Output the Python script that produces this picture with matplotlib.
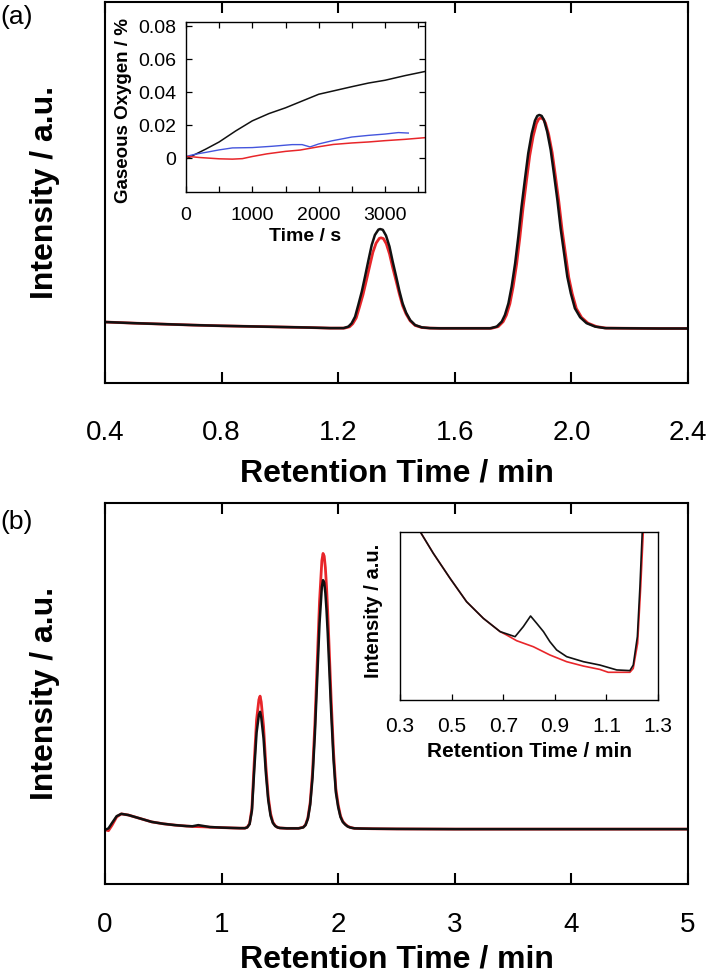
import matplotlib
matplotlib.use('Agg')
import matplotlib.pyplot as plt
from matplotlib.ticker import MultipleLocator

plt.rcParams['font.family'] = ['Liberation Sans', 'DejaVu Sans']

# ---- panel (a): chromatogram, 0.4 - 2.4 min ----
rt_a_blk = [0.40, 0.50, 0.60, 0.70, 0.80, 0.90, 1.00, 1.10, 1.172, 1.218,
            1.235, 1.246, 1.258, 1.269, 1.281, 1.292, 1.304, 1.315, 1.326, 1.338,
            1.344, 1.353, 1.364, 1.376, 1.387, 1.399, 1.410, 1.421, 1.433, 1.447,
            1.464, 1.487, 1.515, 1.55, 1.60, 1.66, 1.721, 1.744, 1.761, 1.772,
            1.784, 1.795, 1.807, 1.818, 1.829, 1.841, 1.852, 1.864, 1.875, 1.883,
            1.890, 1.898, 1.906, 1.917, 1.929, 1.940, 1.952, 1.963, 1.975, 1.986,
            1.998, 2.012, 2.030, 2.052, 2.081, 2.115, 2.20, 2.30, 2.40]
int_a_blk = [16.0, 15.7, 15.45, 15.2, 15.0, 14.85, 14.7, 14.55, 14.4, 14.4,
             14.8, 15.65, 17.4, 20.5, 24.0, 27.9, 32.3, 36.2, 38.85, 40.25,
             40.4, 40.2, 38.7, 35.8, 31.85, 27.9, 24.15, 20.9, 18.45, 16.5,
             15.2, 14.6, 14.4, 14.35, 14.35, 14.35, 14.35, 14.8, 16.1, 17.85,
             20.9, 25.3, 31.4, 38.4, 46.3, 53.7, 60.3, 65.5, 68.85, 70.1,
             70.35, 70.1, 69.0, 65.95, 61.15, 55.0, 48.0, 40.6, 34.0, 27.9,
             23.55, 19.6, 17.25, 15.7, 14.8, 14.4, 14.35, 14.3, 14.3]

rt_a_red = [0.40, 0.50, 0.60, 0.70, 0.80, 0.90, 1.00, 1.10, 1.172, 1.222,
            1.239, 1.250, 1.262, 1.273, 1.285, 1.296, 1.308, 1.319, 1.330, 1.341,
            1.347, 1.355, 1.365, 1.376, 1.387, 1.399, 1.410, 1.421, 1.433, 1.447,
            1.464, 1.487, 1.515, 1.55, 1.60, 1.66, 1.726, 1.749, 1.766, 1.777,
            1.789, 1.800, 1.812, 1.823, 1.834, 1.846, 1.857, 1.869, 1.880, 1.888,
            1.895, 1.903, 1.911, 1.922, 1.934, 1.945, 1.957, 1.968, 1.980, 1.991,
            2.003, 2.017, 2.035, 2.057, 2.086, 2.120, 2.20, 2.30, 2.40]
int_a_red = [16.0, 15.7, 15.45, 15.2, 15.0, 14.85, 14.7, 14.55, 14.4, 14.4,
             14.75, 15.55, 17.1, 19.95, 23.15, 26.7, 30.7, 34.3, 36.7, 37.95,
             38.1, 37.9, 36.55, 33.9, 30.3, 26.7, 23.3, 20.3, 18.1, 16.3,
             15.1, 14.55, 14.4, 14.35, 14.35, 14.35, 14.35, 14.8, 16.1, 17.8,
             20.8, 25.15, 31.15, 38.05, 45.85, 53.15, 59.65, 64.8, 68.1, 69.3,
             69.55, 69.3, 68.25, 65.25, 60.5, 54.45, 47.55, 40.25, 33.7, 27.7,
             23.4, 19.55, 17.2, 15.7, 14.8, 14.4, 14.35, 14.3, 14.3]

# ---- inset (a): gaseous oxygen vs time ----
t_blk = [0, 100, 200, 300, 500, 750, 1000, 1250, 1500, 1750, 2000, 2250,
         2500, 2750, 3000, 3300, 3600]
o2_blk = [-0.0005, 0.0015, 0.0035, 0.0055, 0.0098, 0.0165, 0.0226, 0.027,
          0.0305, 0.0346, 0.0387, 0.041, 0.0433, 0.0455, 0.0472, 0.050, 0.0525]
t_blu = [0, 100, 200, 300, 500, 700, 1000, 1300, 1600, 1750, 1870, 2000,
         2200, 2500, 2750, 3000, 3200, 3350]
o2_blu = [0.001, 0.002, 0.0028, 0.0035, 0.005, 0.0062, 0.0064, 0.0072,
          0.0082, 0.0082, 0.0068, 0.0086, 0.0105, 0.0128, 0.0138, 0.0146,
          0.0155, 0.0152]
t_red = [0, 100, 200, 350, 500, 700, 850, 1000, 1220, 1500, 1720, 2000,
         2220, 2500, 2750, 3000, 3300, 3600]
o2_red = [0.001, 0.0008, 0.0004, 0.0, -0.0004, -0.0006, -0.0003, 0.001,
          0.0026, 0.0041, 0.0049, 0.0069, 0.0083, 0.0092, 0.0098, 0.0106,
          0.0114, 0.0124]

# ---- panel (b): chromatogram, 0 - 5 min ----
rt_b = [0.00, 0.03, 0.06, 0.10, 0.14, 0.20, 0.30, 0.40, 0.50, 0.60,
        0.70, 0.75, 0.80, 0.85, 0.90, 1.00, 1.10, 1.16, 1.20, 1.22,
        1.24, 1.26, 1.28, 1.30, 1.32, 1.33, 1.34, 1.36, 1.38, 1.40,
        1.42, 1.44, 1.46, 1.48, 1.50, 1.56, 1.60, 1.66, 1.70, 1.72,
        1.74, 1.76, 1.78, 1.80, 1.82, 1.84, 1.86, 1.87, 1.88, 1.89,
        1.90, 1.91, 1.92, 1.94, 1.96, 1.98, 2.00, 2.02, 2.04, 2.06,
        2.08, 2.10, 2.12, 2.14, 2.20, 2.30, 2.50, 3.00, 3.50, 4.00,
        4.50, 5.00]
black_b = [14.2, 14.6, 16.0, 17.8, 18.4, 18.1, 17.2, 16.3, 15.8, 15.45,
           15.2, 15.15, 15.45, 15.2, 14.95, 14.8, 14.7, 14.65, 14.65, 14.85,
           15.7, 19.2, 29.9, 39.7, 44.4, 45.2, 43.8, 38.2, 29.0, 22.0,
           17.9, 16.0, 15.2, 14.85, 14.7, 14.6, 14.6, 14.6, 14.85, 15.45,
           17.1, 20.8, 27.9, 39.25, 53.85, 68.4, 78.0, 79.75, 79.1, 76.4,
           71.85, 66.0, 59.1, 45.0, 32.7, 24.05, 20.15, 17.55, 16.25, 15.6,
           15.1, 14.85, 14.7, 14.6, 14.55, 14.5, 14.45, 14.4, 14.4, 14.4,
           14.4, 14.4]
red_b = [14.2, 14.0, 15.4, 17.6, 18.4, 18.1, 17.2, 16.3, 15.8, 15.45,
         15.2, 15.1, 15.05, 15.0, 14.9, 14.8, 14.7, 14.65, 14.65, 14.9,
         15.85, 19.85, 32.0, 43.1, 48.4, 49.3, 47.75, 41.3, 30.9, 22.95,
         18.5, 16.2, 15.3, 14.85, 14.7, 14.6, 14.6, 14.6, 14.9, 15.55,
         17.35, 21.45, 29.35, 41.9, 58.05, 74.15, 84.85, 86.75, 86.05, 83.05,
         78.0, 71.5, 63.9, 48.25, 34.65, 25.05, 20.75, 17.85, 16.4, 15.7,
         15.2, 14.9, 14.75, 14.6, 14.55, 14.5, 14.45, 14.4, 14.4, 14.4,
         14.4, 14.4]

# ---- inset (b): zoom on 0.3 - 1.3 min ----
rt_zb_blk = [0.35, 0.378, 0.429, 0.494, 0.558, 0.623, 0.688, 0.746, 0.778,
             0.806, 0.83, 0.856, 0.881, 0.907, 0.946, 1.011, 1.075, 1.14,
             1.191, 1.204, 1.22, 1.23, 1.239, 1.25]
zb_blk = [115, 100.2, 87.3, 72.4, 58.5, 48.6, 40.7, 37.7, 43.7,
          50.0, 45.6, 40.7, 34.7, 29.8, 25.8, 22.8, 20.8, 17.9,
          17.5, 20.8, 37.7, 67.5, 100.2, 120]
rt_zb_red = [0.35, 0.378, 0.429, 0.494, 0.558, 0.623, 0.688, 0.713, 0.752,
             0.817, 0.881, 0.946, 1.011, 1.075, 1.107, 1.191, 1.204, 1.221,
             1.233, 1.243, 1.255]
zb_red = [115, 100.2, 87.3, 72.4, 58.5, 48.6, 40.7, 38.7, 35.3,
          31.7, 26.8, 22.8, 20.2, 18.2, 16.5, 16.5, 18.8, 33.7,
          67.5, 100.2, 120]

BLACK = '#111111'
RED = '#e8262a'
BLUE = '#4455dd'

fig = plt.figure(figsize=(7.07, 9.77), dpi=100)


def style_box(ax, lw):
  for s in ax.spines.values():
    s.set_linewidth(lw)


# main (a)
ax_a = fig.add_axes([0.1485, 0.608, 0.8246, 0.390])
ax_a.plot(rt_a_red, int_a_red, color=RED, lw=2.0, solid_joinstyle='round')
ax_a.plot(rt_a_blk, int_a_blk, color=BLACK, lw=1.8, solid_joinstyle='round')
ax_a.set_xlim(0.4, 2.4)
ax_a.set_ylim(0, 100)
ax_a.set_xticks([0.4, 0.8, 1.2, 1.6, 2.0, 2.4])
ax_a.set_xticklabels(['0.4', '0.8', '1.2', '1.6', '2.0', '2.4'])
ax_a.tick_params(axis='x', direction='in', top=True, length=8, width=1.5,
                 labelsize=20, pad=27)
ax_a.tick_params(axis='y', left=False, labelleft=False)
ax_a.set_xlabel('Retention Time / min', fontsize=23, fontweight='bold')
ax_a.set_ylabel('Intensity / a.u.', fontsize=23, fontweight='bold')
ax_a.xaxis.set_label_coords(0.5, -0.197)
ax_a.yaxis.set_label_coords(-0.077, 0.5)
style_box(ax_a, 1.5)

# inset (a)
ins_a = fig.add_axes([0.263, 0.8035, 0.338, 0.174])
ins_a.plot(t_blk, o2_blk, color=BLACK, lw=1.1)
ins_a.plot(t_blu, o2_blu, color=BLUE, lw=1.0)
ins_a.plot(t_red, o2_red, color=RED, lw=1.1)
ins_a.set_xlim(0, 3600)
ins_a.set_ylim(-0.0205, 0.0825)
ins_a.set_xticks([0, 1000, 2000, 3000])
ins_a.xaxis.set_minor_locator(MultipleLocator(500))
ins_a.set_yticks([0, 0.02, 0.04, 0.06, 0.08])
ins_a.set_yticklabels(['0', '0.02', '0.04', '0.06', '0.08'])
ins_a.tick_params(which='both', direction='in', top=True, right=True,
                  length=4, width=0.9)
ins_a.tick_params(axis='x', labelsize=14, pad=11)
ins_a.tick_params(axis='y', labelsize=14, pad=7)
ins_a.set_xlabel('Time / s', fontsize=14, fontweight='bold')
ins_a.set_ylabel('Gaseous Oxygen / %', fontsize=13.5, fontweight='bold')
ins_a.xaxis.set_label_coords(0.5, -0.21)
ins_a.yaxis.set_label_coords(-0.225, 0.48)
style_box(ins_a, 1.0)

# main (b)
ax_b = fig.add_axes([0.1485, 0.0952, 0.8246, 0.390])
ax_b.plot(rt_b, red_b, color=RED, lw=2.0, solid_joinstyle='round')
ax_b.plot(rt_b, black_b, color=BLACK, lw=1.8, solid_joinstyle='round')
ax_b.set_xlim(0, 5)
ax_b.set_ylim(0, 100)
ax_b.set_xticks([0, 1, 2, 3, 4, 5])
ax_b.tick_params(axis='x', direction='in', top=True, length=8, width=1.5,
                 labelsize=20, pad=20)
ax_b.tick_params(axis='y', left=False, labelleft=False)
ax_b.set_xlabel('Retention Time / min', fontsize=23, fontweight='bold')
ax_b.set_ylabel('Intensity / a.u.', fontsize=23, fontweight='bold')
ax_b.xaxis.set_label_coords(0.5, -0.16)
ax_b.yaxis.set_label_coords(-0.077, 0.5)
style_box(ax_b, 1.5)

# inset (b)
ins_b = fig.add_axes([0.5658, 0.2835, 0.3649, 0.172])
ins_b.plot(rt_zb_red, zb_red, color=RED, lw=1.2)
ins_b.plot(rt_zb_blk, zb_blk, color=BLACK, lw=1.2)
ins_b.set_xlim(0.3, 1.3)
ins_b.set_ylim(0, 100)
ins_b.set_xticks([0.3, 0.5, 0.7, 0.9, 1.1, 1.3])
ins_b.tick_params(axis='x', direction='in', length=4, width=0.9,
                  labelsize=15, pad=12)
ins_b.tick_params(axis='y', left=False, labelleft=False)
ins_b.set_xlabel('Retention Time / min', fontsize=15, fontweight='bold')
ins_b.set_ylabel('Intensity / a.u.', fontsize=14.5, fontweight='bold')
ins_b.xaxis.set_label_coords(0.5, -0.25)
ins_b.yaxis.set_label_coords(-0.066, 0.53)
style_box(ins_b, 1.0)

fig.text(0.0, 1 - 17 / 977, '(a)', fontsize=19, va='center', ha='left')
fig.text(0.0, 1 - 522 / 977, '(b)', fontsize=19, va='center', ha='left')

fig.savefig('out.png', dpi=100)
